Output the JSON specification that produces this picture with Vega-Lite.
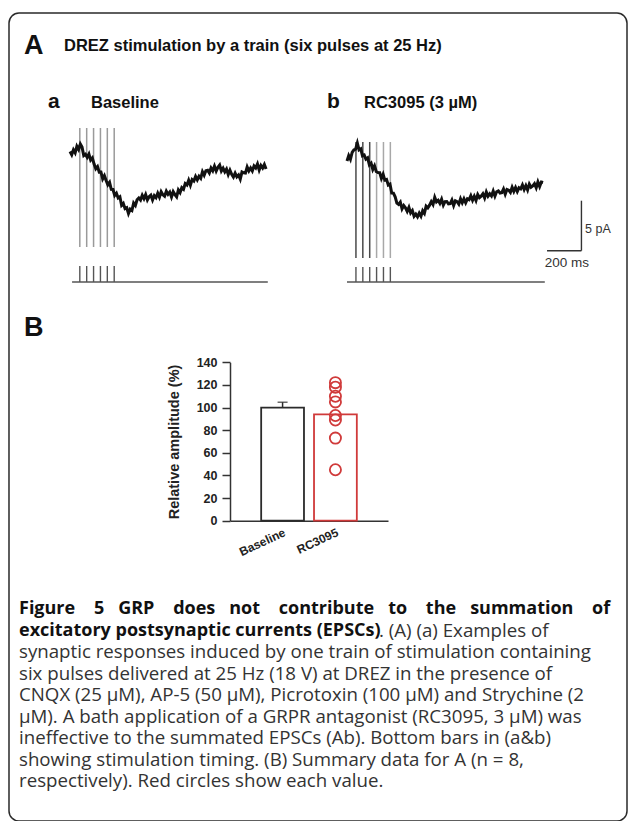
{
  "$schema": "https://vega.github.io/schema/vega-lite/v6.json",
  "width": 618,
  "height": 808,
  "autosize": "none",
  "padding": {"left": 9, "top": 13, "right": 2, "bottom": 0},
  "background": "white",
  "config": {
    "view": {"stroke": "#2a2a2a", "strokeWidth": 1.5, "cornerRadius": 10}
  },
  "datasets": {
    "traceA": [
      {"t":0,"I":0.15},{"t":10,"I":-0.17},{"t":20,"I":0.32},{"t":30,"I":0.02},{"t":40,"I":0.67},{"t":50,"I":0.36},{"t":60,"I":0.9},{"t":70,"I":0.59},{"t":80,"I":-0.26},{"t":90,"I":-0.12},
      {"t":100,"I":-0.44},{"t":110,"I":-0.11},{"t":120,"I":-0.71},{"t":130,"I":-0.49},{"t":140,"I":-1.11},{"t":150,"I":-1.57},{"t":160,"I":-1.36},{"t":170,"I":-1.91},{"t":180,"I":-1.9},{"t":190,"I":-2.59},
      {"t":200,"I":-2.27},{"t":210,"I":-2.75},{"t":220,"I":-3.18},{"t":230,"I":-2.93},{"t":240,"I":-3.64},{"t":250,"I":-3.65},{"t":260,"I":-4.24},{"t":270,"I":-4.02},{"t":280,"I":-4.5},{"t":290,"I":-4.38},
      {"t":300,"I":-5.23},{"t":310,"I":-5.04},{"t":320,"I":-5.56},{"t":330,"I":-5.47},{"t":340,"I":-6.05},{"t":350,"I":-5.62},{"t":360,"I":-5.75},{"t":370,"I":-5.01},{"t":380,"I":-5.24},{"t":390,"I":-4.67},
      {"t":400,"I":-4.5},{"t":410,"I":-4.7},{"t":420,"I":-4.23},{"t":430,"I":-4.57},{"t":440,"I":-4.16},{"t":450,"I":-4.69},{"t":460,"I":-4.38},{"t":470,"I":-4.22},{"t":480,"I":-4.7},{"t":490,"I":-4.27},
      {"t":500,"I":-4.47},{"t":510,"I":-4.02},{"t":520,"I":-4.42},{"t":530,"I":-3.87},{"t":540,"I":-4.17},{"t":550,"I":-4.32},{"t":560,"I":-3.82},{"t":570,"I":-4.13},{"t":580,"I":-3.91},{"t":590,"I":-4.4},
      {"t":600,"I":-3.87},{"t":610,"I":-4.16},{"t":620,"I":-4.39},{"t":630,"I":-3.7},{"t":640,"I":-3.96},{"t":650,"I":-3.46},{"t":660,"I":-3.62},{"t":670,"I":-3.06},{"t":680,"I":-3.2},{"t":690,"I":-2.73},
      {"t":700,"I":-3.22},{"t":710,"I":-2.66},{"t":720,"I":-2.8},{"t":730,"I":-2.34},{"t":740,"I":-2.68},{"t":750,"I":-2.33},{"t":760,"I":-2.53},{"t":770,"I":-1.87},{"t":780,"I":-2.22},{"t":790,"I":-1.77},
      {"t":800,"I":-1.73},{"t":810,"I":-2.01},{"t":820,"I":-1.5},{"t":830,"I":-1.78},{"t":840,"I":-1.31},{"t":850,"I":-1.8},{"t":860,"I":-1.43},{"t":870,"I":-1.21},{"t":880,"I":-1.8},{"t":890,"I":-1.52},
      {"t":900,"I":-1.89},{"t":910,"I":-1.61},{"t":920,"I":-2.15},{"t":930,"I":-1.72},{"t":940,"I":-2.13},{"t":950,"I":-2.4},{"t":960,"I":-2.01},{"t":970,"I":-2.38},{"t":980,"I":-2.2},{"t":990,"I":-2.62},
      {"t":1000,"I":-1.9},{"t":1010,"I":-1.98},{"t":1020,"I":-2.01},{"t":1030,"I":-1.4},{"t":1040,"I":-1.79},{"t":1050,"I":-1.49},{"t":1060,"I":-1.79},{"t":1070,"I":-1.29},{"t":1080,"I":-1.49},{"t":1090,"I":-1.1},
      {"t":1100,"I":-1.7},{"t":1110,"I":-1.25},{"t":1120,"I":-1.5},{"t":1130,"I":-1.15},{"t":1140,"I":-1.6}
    ],
    "traceB": [
      {"t":0,"I":-0.1},{"t":10,"I":0.44},{"t":20,"I":0.07},{"t":30,"I":0.75},{"t":40,"I":1.0},{"t":50,"I":1.09},{"t":60,"I":1.7},{"t":70,"I":1.01},{"t":80,"I":1.12},{"t":90,"I":0.42},
      {"t":100,"I":0.5},{"t":110,"I":0.08},{"t":120,"I":0.21},{"t":130,"I":-0.48},{"t":140,"I":-0.31},{"t":150,"I":-0.95},{"t":160,"I":-0.59},{"t":170,"I":-1.15},{"t":180,"I":-1.25},{"t":190,"I":-1.26},
      {"t":200,"I":-1.85},{"t":210,"I":-1.43},{"t":220,"I":-2.01},{"t":230,"I":-1.94},{"t":240,"I":-2.51},{"t":250,"I":-2.41},{"t":260,"I":-3.3},{"t":270,"I":-3.31},{"t":280,"I":-3.68},{"t":290,"I":-4.31},
      {"t":300,"I":-4.44},{"t":310,"I":-4.21},{"t":320,"I":-4.89},{"t":330,"I":-4.56},{"t":340,"I":-4.78},{"t":350,"I":-5.14},{"t":360,"I":-4.74},{"t":370,"I":-5.29},{"t":380,"I":-5.05},{"t":390,"I":-5.62},
      {"t":400,"I":-5.4},{"t":410,"I":-5.68},{"t":420,"I":-5.31},{"t":430,"I":-5.62},{"t":440,"I":-5.08},{"t":450,"I":-5.34},{"t":460,"I":-4.61},{"t":470,"I":-4.78},{"t":480,"I":-4.52},{"t":490,"I":-4.16},
      {"t":500,"I":-4.45},{"t":510,"I":-3.73},{"t":520,"I":-4.19},{"t":530,"I":-4.03},{"t":540,"I":-4.33},{"t":550,"I":-3.92},{"t":560,"I":-4.51},{"t":570,"I":-4.16},{"t":580,"I":-4.15},{"t":590,"I":-4.39},
      {"t":600,"I":-4.37},{"t":610,"I":-4.01},{"t":620,"I":-4.55},{"t":630,"I":-4.08},{"t":640,"I":-4.17},{"t":650,"I":-4.41},{"t":660,"I":-3.88},{"t":670,"I":-4.28},{"t":680,"I":-3.88},{"t":690,"I":-4.28},
      {"t":700,"I":-3.88},{"t":710,"I":-3.97},{"t":720,"I":-3.57},{"t":730,"I":-4.02},{"t":740,"I":-3.63},{"t":750,"I":-4.04},{"t":760,"I":-3.45},{"t":770,"I":-3.76},{"t":780,"I":-3.62},{"t":790,"I":-3.38},
      {"t":800,"I":-3.8},{"t":810,"I":-3.21},{"t":820,"I":-3.62},{"t":830,"I":-3.38},{"t":840,"I":-3.59},{"t":850,"I":-3.11},{"t":860,"I":-3.62},{"t":870,"I":-3.18},{"t":880,"I":-3.09},{"t":890,"I":-3.3},
      {"t":900,"I":-3.27},{"t":910,"I":-2.9},{"t":920,"I":-3.42},{"t":930,"I":-2.95},{"t":940,"I":-3.02},{"t":950,"I":-3.24},{"t":960,"I":-2.72},{"t":970,"I":-3.14},{"t":980,"I":-2.75},{"t":990,"I":-3.16},
      {"t":1000,"I":-2.78},{"t":1010,"I":-2.89},{"t":1020,"I":-2.5},{"t":1030,"I":-2.96},{"t":1040,"I":-2.57},{"t":1050,"I":-2.99},{"t":1060,"I":-2.41},{"t":1070,"I":-2.73},{"t":1080,"I":-2.6},{"t":1090,"I":-2.37},
      {"t":1100,"I":-2.78},{"t":1110,"I":-2.2},{"t":1120,"I":-2.65},{"t":1130,"I":-2.2},{"t":1140,"I":-2.25}
    ],
    "stimA": [{"pulse":1,"t":57},{"pulse":2,"t":97},{"pulse":3,"t":137},{"pulse":4,"t":177},{"pulse":5,"t":217},{"pulse":6,"t":257}],
    "stimB": [{"pulse":1,"t":52},{"pulse":2,"t":92},{"pulse":3,"t":132},{"pulse":4,"t":172},{"pulse":5,"t":212},{"pulse":6,"t":252}],
    "sweep": [{"panel":"a","start":12,"end":1150},{"panel":"b","start":0,"end":1150}],
    "bars": [{"group":"Baseline","mean":100,"upper":104.7},{"group":"RC3095","mean":94}],
    "cells": [
      {"group":"RC3095","value":122},{"group":"RC3095","value":118},{"group":"RC3095","value":110},{"group":"RC3095","value":105},
      {"group":"RC3095","value":93},{"group":"RC3095","value":89},{"group":"RC3095","value":73},{"group":"RC3095","value":45}
    ],
    "caption": [
      {"line":1,"part":"title","text":"Figure\u00a0\u00a0\u00a0 5\u00a0\u00a0 GRP\u00a0\u00a0\u00a0 does\u00a0\u00a0 not\u00a0\u00a0\u00a0 contribute\u00a0\u00a0 to\u00a0\u00a0\u00a0 the\u00a0\u00a0 summation\u00a0\u00a0\u00a0 of"},
      {"line":2,"part":"title","text":"excitatory postsynaptic currents (EPSCs)"},
      {"line":2,"part":"tail","text":". (A) (a) Examples of"},
      {"line":3,"part":"body","text":"synaptic responses induced by one train of stimulation containing"},
      {"line":4,"part":"body","text":"six pulses delivered at 25 Hz (18 V) at DREZ in the presence of"},
      {"line":5,"part":"body","text":"CNQX (25 µM), AP-5 (50 µM), Picrotoxin (100 µM) and Strychine (2"},
      {"line":6,"part":"body","text":"µM). A bath application of a GRPR antagonist (RC3095, 3 µM) was"},
      {"line":7,"part":"body","text":"ineffective to the summated EPSCs (Ab). Bottom bars in (a&b)"},
      {"line":8,"part":"body","text":"showing stimulation timing. (B) Summary data for A (n = 8,"},
      {"line":9,"part":"body","text":"respectively). Red circles show each value."}
    ]
  },
  "resolve": {"scale": {"x": "independent", "y": "independent"}, "axis": {"x": "independent", "y": "independent"}},
  "layer": [
    {
      "layer": [
        {
          "data": {"name": "stimA"},
          "mark": {"type": "rule", "color": "#9a9a9a", "strokeWidth": 1.5},
          "encoding": {
            "x": {"field": "t", "type": "quantitative", "scale": {"domain": [0, 1200], "range": [61, 267.4], "nice": false, "zero": false}, "axis": null},
            "y": {"datum": 2.5, "type": "quantitative", "scale": {"domain": [-15, 5], "range": [290, 90], "nice": false, "zero": false}, "axis": null},
            "y2": {"datum": -9.4}
          }
        },
        {
          "data": {"name": "traceA"},
          "mark": {"type": "line", "color": "#111111", "strokeWidth": 3},
          "encoding": {
            "x": {"field": "t", "type": "quantitative", "axis": null},
            "y": {"field": "I", "type": "quantitative", "axis": null}
          }
        },
        {
          "data": {"name": "stimA"},
          "mark": {"type": "rule", "color": "#555555", "strokeWidth": 1.4},
          "encoding": {
            "x": {"field": "t", "type": "quantitative", "axis": null},
            "y": {"datum": -11.3, "type": "quantitative", "axis": null},
            "y2": {"datum": -12.9}
          }
        },
        {
          "data": {"name": "sweep"},
          "transform": [{"filter": "datum.panel === 'a'"}],
          "mark": {"type": "rule", "color": "#555555", "strokeWidth": 1.4},
          "encoding": {
            "x": {"field": "start", "type": "quantitative", "axis": null},
            "x2": {"field": "end"},
            "y": {"datum": -12.9, "type": "quantitative", "axis": null}
          }
        },
        {
          "data": {"values": [{}]},
          "mark": {"type": "text", "text": "A", "font": "Liberation Sans", "fontSize": 27, "fontWeight": "bold", "align": "left", "baseline": "alphabetic", "fill": "#111111"},
          "encoding": {"x": {"datum": -268, "type": "quantitative", "axis": null}, "y": {"datum": 9.9, "type": "quantitative", "axis": null}}
        },
        {
          "data": {"values": [{}]},
          "mark": {"type": "text", "text": "B", "font": "Liberation Sans", "fontSize": 27, "fontWeight": "bold", "align": "left", "baseline": "alphabetic", "fill": "#111111"},
          "encoding": {"x": {"datum": -268, "type": "quantitative", "axis": null}, "y": {"datum": -18.3, "type": "quantitative", "axis": null}}
        },
        {
          "data": {"values": [{}]},
          "mark": {"type": "text", "text": "DREZ stimulation by a train (six pulses at 25 Hz)", "font": "Liberation Sans", "fontSize": 16.5, "fontWeight": "bold", "align": "left", "baseline": "alphabetic", "fill": "#111111"},
          "encoding": {"x": {"datum": -35, "type": "quantitative", "axis": null}, "y": {"datum": 10.2, "type": "quantitative", "axis": null}}
        },
        {
          "data": {"values": [{}]},
          "mark": {"type": "text", "text": "a", "font": "Liberation Sans", "fontSize": 21, "fontWeight": "bold", "align": "left", "baseline": "alphabetic", "fill": "#111111"},
          "encoding": {"x": {"datum": -128, "type": "quantitative", "axis": null}, "y": {"datum": 4.5, "type": "quantitative", "axis": null}}
        },
        {
          "data": {"values": [{}]},
          "mark": {"type": "text", "text": "Baseline", "font": "Liberation Sans", "fontSize": 16.5, "fontWeight": "bold", "align": "left", "baseline": "alphabetic", "fill": "#111111"},
          "encoding": {"x": {"datum": 122, "type": "quantitative", "axis": null}, "y": {"datum": 4.5, "type": "quantitative", "axis": null}}
        }
      ]
    },
    {
      "layer": [
        {
          "data": {"name": "stimB"},
          "transform": [{"filter": "datum.pulse <= 3"}],
          "mark": {"type": "rule", "color": "#4a4a4a", "strokeWidth": 1.5},
          "encoding": {
            "x": {"field": "t", "type": "quantitative", "scale": {"domain": [0, 1450], "range": [338, 587.4], "nice": false, "zero": false}, "axis": null},
            "y": {"datum": 1.8, "type": "quantitative", "scale": {"domain": [-15, 5], "range": [297, 97], "nice": false, "zero": false}, "axis": null},
            "y2": {"datum": -9.8}
          }
        },
        {
          "data": {"name": "stimB"},
          "transform": [{"filter": "datum.pulse > 3"}],
          "mark": {"type": "rule", "color": "#a8a8a8", "strokeWidth": 1.5},
          "encoding": {
            "x": {"field": "t", "type": "quantitative", "axis": null},
            "y": {"datum": 1.8, "type": "quantitative", "axis": null},
            "y2": {"datum": -9.8}
          }
        },
        {
          "data": {"name": "traceB"},
          "mark": {"type": "line", "color": "#111111", "strokeWidth": 3},
          "encoding": {
            "x": {"field": "t", "type": "quantitative", "axis": null},
            "y": {"field": "I", "type": "quantitative", "axis": null}
          }
        },
        {
          "data": {"name": "stimB"},
          "mark": {"type": "rule", "color": "#555555", "strokeWidth": 1.4},
          "encoding": {
            "x": {"field": "t", "type": "quantitative", "axis": null},
            "y": {"datum": -10.7, "type": "quantitative", "axis": null},
            "y2": {"datum": -12.2}
          }
        },
        {
          "data": {"name": "sweep"},
          "transform": [{"filter": "datum.panel === 'b'"}],
          "mark": {"type": "rule", "color": "#555555", "strokeWidth": 1.4},
          "encoding": {
            "x": {"field": "start", "type": "quantitative", "axis": null},
            "x2": {"field": "end"},
            "y": {"datum": -12.2, "type": "quantitative", "axis": null}
          }
        },
        {
          "data": {"values": [{}]},
          "mark": {"type": "rule", "color": "#333333", "strokeWidth": 1.4},
          "encoding": {
            "x": {"datum": 1163, "type": "quantitative", "axis": null},
            "x2": {"datum": 1363},
            "y": {"datum": -9.07, "type": "quantitative", "axis": null}
          }
        },
        {
          "data": {"values": [{}]},
          "mark": {"type": "rule", "color": "#333333", "strokeWidth": 1.4},
          "encoding": {
            "x": {"datum": 1363, "type": "quantitative", "axis": null},
            "y": {"datum": -4.07, "type": "quantitative", "axis": null},
            "y2": {"datum": -9.07}
          }
        },
        {
          "data": {"values": [{}]},
          "mark": {"type": "text", "text": "5 pA", "font": "Liberation Sans", "fontSize": 12.5, "align": "left", "baseline": "middle", "fill": "#333333"},
          "encoding": {"x": {"datum": 1384, "type": "quantitative", "axis": null}, "y": {"datum": -6.9, "type": "quantitative", "axis": null}}
        },
        {
          "data": {"values": [{}]},
          "mark": {"type": "text", "text": "200 ms", "font": "Liberation Sans", "fontSize": 13.5, "align": "center", "baseline": "middle", "fill": "#333333"},
          "encoding": {"x": {"datum": 1279, "type": "quantitative", "axis": null}, "y": {"datum": -10.3, "type": "quantitative", "axis": null}}
        },
        {
          "data": {"values": [{}]},
          "mark": {"type": "text", "text": "b", "font": "Liberation Sans", "fontSize": 21, "fontWeight": "bold", "align": "left", "baseline": "alphabetic", "fill": "#111111"},
          "encoding": {"x": {"datum": -116, "type": "quantitative", "axis": null}, "y": {"datum": 5.2, "type": "quantitative", "axis": null}}
        },
        {
          "data": {"values": [{}]},
          "mark": {"type": "text", "text": "RC3095 (3 µM)", "font": "Liberation Sans", "fontSize": 16.5, "fontWeight": "bold", "align": "left", "baseline": "alphabetic", "fill": "#111111"},
          "encoding": {"x": {"datum": 99, "type": "quantitative", "axis": null}, "y": {"datum": 5.2, "type": "quantitative", "axis": null}}
        }
      ]
    },
    {
      "layer": [
        {
          "data": {"name": "bars"},
          "mark": {"type": "bar", "fill": "white", "strokeWidth": 1.8},
          "encoding": {
            "x": {
              "field": "group", "type": "nominal",
              "scale": {"type": "band", "domain": ["Baseline", "RC3095"], "range": [221, 379], "paddingInner": 0.19, "paddingOuter": 0.59},
              "axis": {"orient": "bottom", "offset": -300.3, "title": null, "labelAngle": -25, "labelAlign": "right", "labelBaseline": "top", "labelFont": "Liberation Sans", "labelFontSize": 12, "labelFontWeight": "bold", "labelColor": "#222222", "ticks": false, "labelPadding": 6, "domainColor": "#333333", "domainWidth": 1.5, "grid": false}
            },
            "y": {
              "field": "mean", "type": "quantitative",
              "scale": {"domain": [0, 140], "range": [507.7, 349.3], "nice": false},
              "axis": {"orient": "left", "offset": -221, "values": [0, 20, 40, 60, 80, 100, 120, 140], "title": "Relative amplitude (%)", "titleFont": "Liberation Sans", "titleFontSize": 14.5, "titleFontWeight": "bold", "titleColor": "#222222", "titlePadding": 15, "labelFont": "Liberation Sans", "labelFontSize": 12.5, "labelFontWeight": "bold", "labelColor": "#222222", "labelPadding": 5, "tickSize": 8, "tickColor": "#333333", "tickWidth": 1.5, "domainColor": "#333333", "domainWidth": 1.5, "grid": false}
            },
            "stroke": {"field": "group", "type": "nominal", "scale": {"domain": ["Baseline", "RC3095"], "range": ["#2b2b2b", "#d03a3a"]}, "legend": null}
          }
        },
        {
          "data": {"name": "bars"},
          "transform": [{"filter": "isValid(datum.upper)"}],
          "mark": {"type": "rule", "color": "#2b2b2b", "strokeWidth": 1.5},
          "encoding": {
            "x": {"field": "group", "type": "nominal"},
            "y": {"field": "mean", "type": "quantitative"},
            "y2": {"field": "upper"}
          }
        },
        {
          "data": {"name": "bars"},
          "transform": [{"filter": "isValid(datum.upper)"}],
          "mark": {"type": "tick", "color": "#2b2b2b", "size": 10, "thickness": 1.5, "orient": "horizontal"},
          "encoding": {
            "x": {"field": "group", "type": "nominal"},
            "y": {"field": "upper", "type": "quantitative"}
          }
        },
        {
          "data": {"name": "cells"},
          "mark": {"type": "point", "shape": "circle", "filled": false, "size": 125, "stroke": "#d03a3a", "strokeWidth": 1.8, "opacity": 1},
          "encoding": {
            "x": {"field": "group", "type": "nominal"},
            "y": {"field": "value", "type": "quantitative"}
          }
        }
      ]
    },
    {
      "data": {"name": "caption"},
      "layer": [
        {
          "transform": [{"filter": "datum.part === 'title'"}],
          "mark": {"type": "text", "font": "Open Sans", "fontSize": 18, "fontWeight": "bold", "align": "left", "baseline": "middle", "fill": "#111111"},
          "encoding": {
            "x": {"datum": 0, "type": "quantitative", "scale": {"domain": [0, 1], "range": [10, 610]}, "axis": null},
            "y": {"field": "line", "type": "quantitative", "scale": {"domain": [1, 9], "range": [596, 768], "nice": false, "zero": false}, "axis": null},
            "text": {"field": "text"}
          }
        },
        {
          "transform": [{"filter": "datum.part === 'tail'"}],
          "mark": {"type": "text", "font": "Open Sans", "fontSize": 18.7, "align": "left", "baseline": "middle", "fill": "#333333", "dx": 360},
          "encoding": {
            "x": {"datum": 0, "type": "quantitative", "axis": null},
            "y": {"field": "line", "type": "quantitative", "axis": null},
            "text": {"field": "text"}
          }
        },
        {
          "transform": [{"filter": "datum.part === 'body'"}],
          "mark": {"type": "text", "font": "Open Sans", "fontSize": 18.7, "align": "left", "baseline": "middle", "fill": "#333333"},
          "encoding": {
            "x": {"datum": 0, "type": "quantitative", "axis": null},
            "y": {"field": "line", "type": "quantitative", "axis": null},
            "text": {"field": "text"}
          }
        }
      ]
    }
  ]
}
